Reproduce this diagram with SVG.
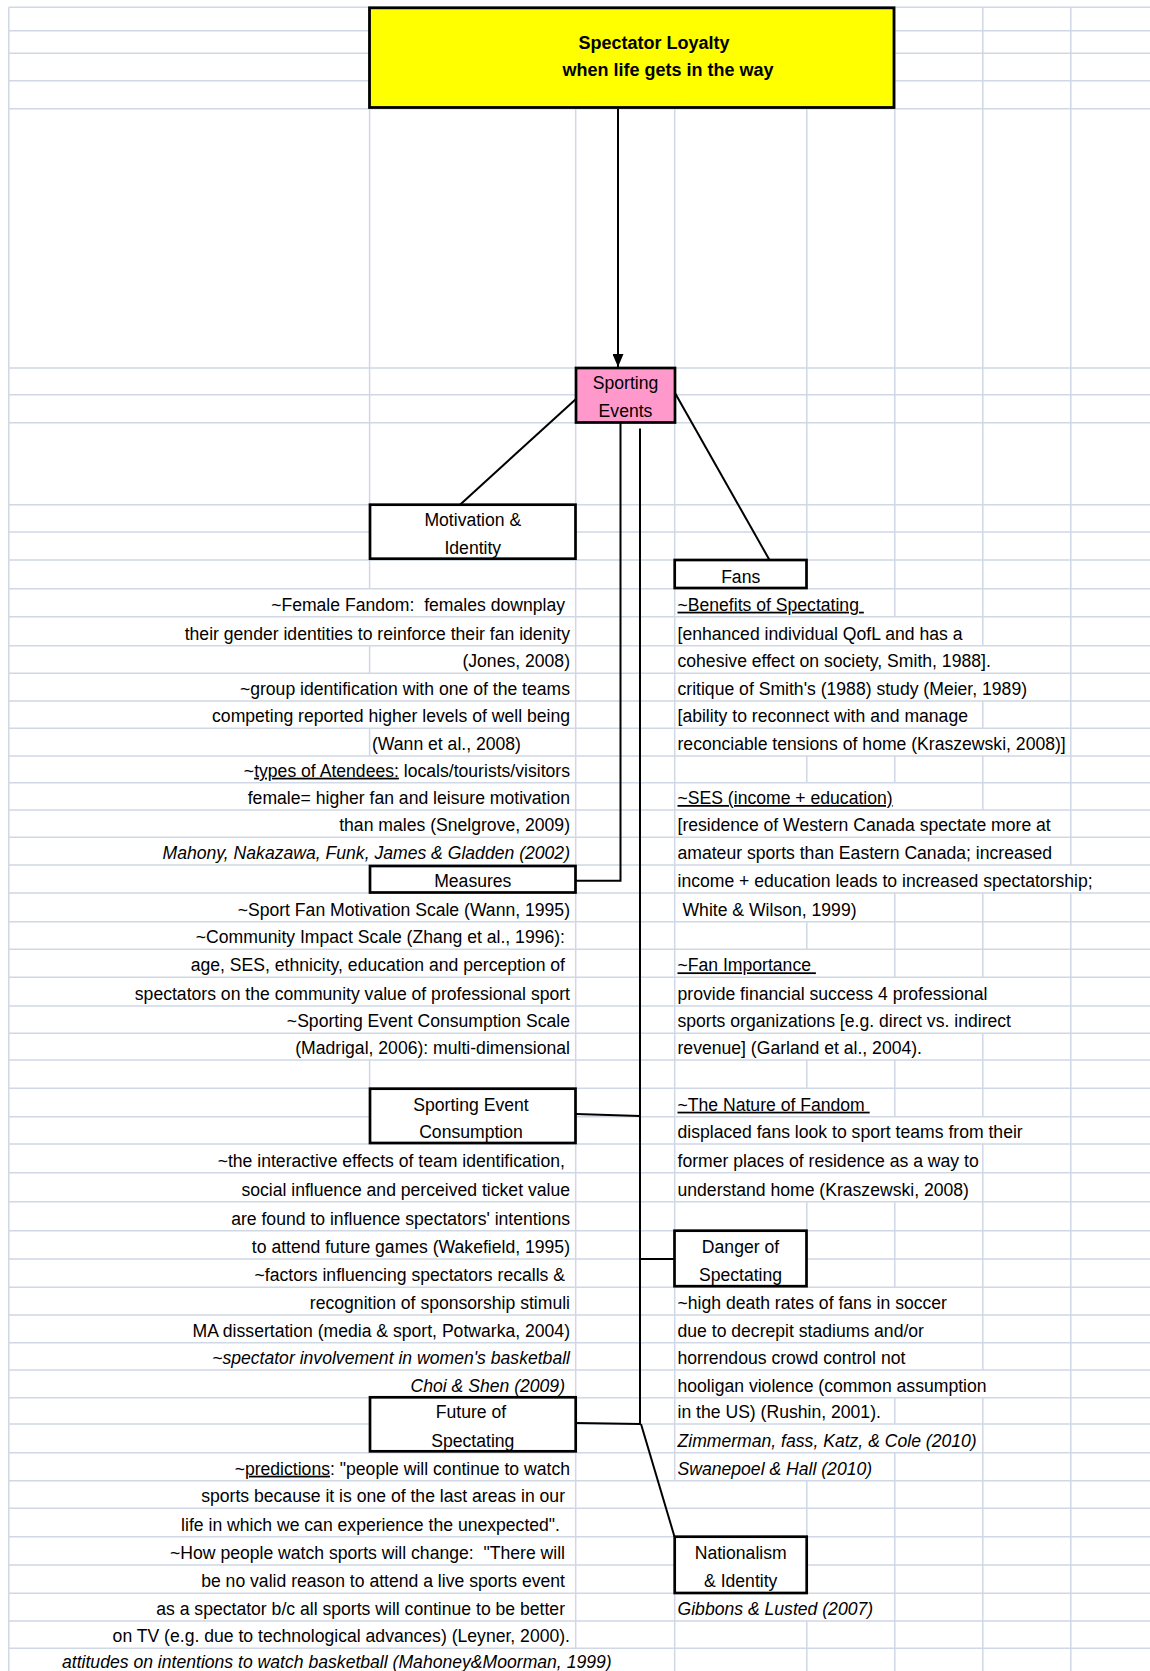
<svg xmlns="http://www.w3.org/2000/svg" width="1150" height="1671" viewBox="0 0 1150 1671">
<style>
text{font-family:"Liberation Sans",Arial,sans-serif;font-size:17.6px;fill:#000}
.l{text-anchor:end}
.c{text-anchor:middle}
.i{font-style:italic}
.u{text-decoration:underline}
.t{font-weight:bold;font-size:18px}
.grid{stroke:#D0D7E5;stroke-width:1.5;fill:none}
.box{fill:#fff;stroke:#000;stroke-width:2.7}
.conn{stroke:#000;stroke-width:2;fill:none}
</style>
<defs>
<marker id="arr" markerUnits="userSpaceOnUse" markerWidth="13" markerHeight="11" refX="13" refY="5.5" orient="auto" viewBox="0 0 13 11"><path d="M0,0 L13,5.5 L0,11 Z" fill="#000"/></marker>
</defs>
<rect width="1150" height="1671" fill="#fff"/>
<g id="grid" class="grid">
<path d="M8.8 7.3H1150M8.8 30.7H1150M8.8 53.3H1150M8.8 80.7H1150M8.8 108.7H1150M8.8 368H1150M8.8 394.7H1150M8.8 422.7H1150M8.8 504.7H1150M8.8 532H1150M8.8 560H1150M8.8 588.7H1150M8.8 616.7H1150M8.8 645.7H1150M8.8 673.3H1150M8.8 701H1150M8.8 728.3H1150M8.8 756H1150M8.8 782.7H1150M8.8 810H1150M8.8 837.3H1150M8.8 865H1150M8.8 893H1150M8.8 921.7H1150M8.8 949.3H1150M8.8 977.3H1150M8.8 1006H1150M8.8 1033.3H1150M8.8 1060H1150M8.8 1088.3H1150M8.8 1116.7H1150M8.8 1144H1150M8.8 1172.7H1150M8.8 1201.7H1150M8.8 1230.7H1150M8.8 1259H1150M8.8 1287.3H1150M8.8 1315H1150M8.8 1342.7H1150M8.8 1370H1150M8.8 1397.7H1150M8.8 1424H1150M8.8 1452.7H1150M8.8 1480.7H1150M8.8 1508.3H1150M8.8 1536.7H1150M8.8 1565H1150M8.8 1593.3H1150M8.8 1621H1150M8.8 1648.3H1150"/>
<path d="M8.8 7.3V1671M369.6 108.7V504.7M369.6 560V588.7M369.6 645.7V673.3M369.6 728.3V756M369.6 1060V1088.3M575.7 108.7V1648.3M674.7 108.7V1480.7M674.7 1536.7V1671M806.8 108.7V588.7M806.8 756V782.7M806.8 921.7V949.3M806.8 1060V1088.3M806.8 1201.7V1287.3M806.8 1480.7V1593.3M806.8 1621V1671M894.8 7.3V616.7M894.8 756V782.7M894.8 893V977.3M894.8 1060V1116.7M894.8 1201.7V1287.3M894.8 1397.7V1424M894.8 1452.7V1671M982.8 7.3V645.7M982.8 701V728.3M982.8 756V810M982.8 893V977.3M982.8 1033.3V1116.7M982.8 1144V1370M982.8 1397.7V1671M1070.8 7.3V865M1070.8 893V1671"/>
</g>
<g id="connectors" class="conn">
<path d="M618 108.7V367" marker-end="url(#arr)"/>
<path d="M576 399L460 504.7"/>
<path d="M675 393L769.5 560"/>
<path d="M620.5 422.7V880.7H576"/>
<path d="M640 428.5V1424"/>
<path d="M576 1114L640 1116"/>
<path d="M640 1259H674.7"/>
<path d="M576 1423L641 1424"/>
<path d="M641 1424L674.5 1536.7"/>
</g>
<g id="node-title">
<rect x="369.5" y="7.8" width="524.5" height="99.7" fill="#FFFF00" stroke="#000" stroke-width="2.8"/>
<text class="t" x="578.5" y="49">Spectator Loyalty</text>
<text class="t" x="562.5" y="76">when life gets in the way</text>
</g>
<g id="node-sporting-events">
<rect x="576" y="368" width="99" height="54.5" fill="#FF99CC" stroke="#000" stroke-width="2.7"/>
<text class="c" x="625.5" y="388.7">Sporting</text>
<text class="c" x="625.5" y="416.7">Events</text>
</g>
<g id="node-motivation">
<rect class="box" x="370" y="504.7" width="205.5" height="54"/>
<text class="c" x="472.8" y="526.3">Motivation &amp;</text>
<text class="c" x="472.8" y="554">Identity</text>
</g>
<g id="node-fans">
<rect class="box" x="674.7" y="560" width="131.8" height="28"/>
<text class="c" x="740.7" y="582.7">Fans</text>
</g>
<g id="node-measures">
<rect class="box" x="370" y="866" width="205.5" height="26.5"/>
<text class="c" x="472.8" y="887">Measures</text>
</g>
<g id="node-consumption">
<rect class="box" x="370" y="1088.7" width="205.5" height="54.3"/>
<text class="c" x="471" y="1110.7">Sporting Event</text>
<text class="c" x="471" y="1138">Consumption</text>
</g>
<g id="node-danger">
<rect class="box" x="674.5" y="1230.7" width="132" height="55.5"/>
<text class="c" x="740.5" y="1253">Danger of</text>
<text class="c" x="740.5" y="1281.3">Spectating</text>
</g>
<g id="node-future">
<rect class="box" x="370" y="1397.3" width="205.7" height="54"/>
<text class="c" x="471" y="1418">Future of</text>
<text class="c" x="472.8" y="1446.7">Spectating</text>
</g>
<g id="node-nationalism">
<rect class="box" x="674.7" y="1536.7" width="132" height="56.3"/>
<text class="c" x="740.7" y="1559">Nationalism</text>
<text class="c" x="740.7" y="1587.3">&amp; Identity</text>
</g>
<g id="notes-left">
<text class="l" x="565" y="610.7" xml:space="preserve">~Female Fandom:  females downplay</text>
<text class="l" x="570" y="639.7">their gender identities to reinforce their fan idenity</text>
<text class="l" x="570" y="667.3">(Jones, 2008)</text>
<text class="l" x="570" y="695">~group identification with one of the teams</text>
<text class="l" x="570" y="722.3">competing reported higher levels of well being</text>
<text x="372" y="750">(Wann et al., 2008)</text>
<text class="l" x="570" y="776.7" xml:space="preserve">~<tspan class="u">types of Atendees:</tspan> locals/tourists/visitors</text>
<text class="l" x="570" y="804">female= higher fan and leisure motivation</text>
<text class="l" x="570" y="831.3">than males (Snelgrove, 2009)</text>
<text class="l i" x="570" y="859">Mahony, Nakazawa, Funk, James &amp; Gladden (2002)</text>
<text class="l" x="570" y="915.7">~Sport Fan Motivation Scale (Wann, 1995)</text>
<text class="l" x="565" y="943.3">~Community Impact Scale (Zhang et al., 1996):</text>
<text class="l" x="565" y="971.3">age, SES, ethnicity, education and perception of</text>
<text class="l" x="570" y="1000">spectators on the community value of professional sport</text>
<text class="l" x="570" y="1027.3">~Sporting Event Consumption Scale</text>
<text class="l" x="570" y="1054">(Madrigal, 2006): multi-dimensional</text>
<text class="l" x="565" y="1166.7">~the interactive effects of team identification,</text>
<text class="l" x="570" y="1195.7">social influence and perceived ticket value</text>
<text class="l" x="570" y="1224.7">are found to influence spectators' intentions</text>
<text class="l" x="570" y="1253">to attend future games (Wakefield, 1995)</text>
<text class="l" x="565" y="1281.3">~factors influencing spectators recalls &amp;</text>
<text class="l" x="570" y="1309">recognition of sponsorship stimuli</text>
<text class="l" x="570" y="1336.7">MA dissertation (media &amp; sport, Potwarka, 2004)</text>
<text class="l i" x="570" y="1364">~spectator involvement in women's basketball</text>
<text class="l i" x="565" y="1391.7">Choi &amp; Shen (2009)</text>
<text class="l" x="570" y="1474.7" xml:space="preserve">~<tspan class="u">predictions</tspan>: "people will continue to watch</text>
<text class="l" x="565" y="1502.3">sports because it is one of the last areas in our</text>
<text class="l" x="560" y="1530.7">life in which we can experience the unexpected".</text>
<text class="l" x="565" y="1559" xml:space="preserve">~How people watch sports will change:  "There will</text>
<text class="l" x="565" y="1587.3">be no valid reason to attend a live sports event</text>
<text class="l" x="565" y="1615">as a spectator b/c all sports will continue to be better</text>
<text class="l" x="570" y="1642.3">on TV (e.g. due to technological advances) (Leyner, 2000).</text>
<text class="i" x="62" y="1668">attitudes on intentions to watch basketball (Mahoney&amp;Moorman, 1999)</text>
</g>
<g id="notes-right">
<text class="u" x="677.5" y="610.7" xml:space="preserve">~Benefits of Spectating </text>
<text x="677.5" y="639.7">[enhanced individual QofL and has a</text>
<text x="677.5" y="667.3">cohesive effect on society, Smith, 1988].</text>
<text x="677.5" y="695">critique of Smith's (1988) study (Meier, 1989)</text>
<text x="677.5" y="722.3">[ability to reconnect with and manage</text>
<text x="677.5" y="750">reconciable tensions of home (Kraszewski, 2008)]</text>
<text class="u" x="677.5" y="804">~SES (income + education)</text>
<text x="677.5" y="831.3">[residence of Western Canada spectate more at</text>
<text x="677.5" y="859">amateur sports than Eastern Canada; increased</text>
<text x="677.5" y="887">income + education leads to increased spectatorship;</text>
<text x="682.5" y="915.7">White &amp; Wilson, 1999)</text>
<text class="u" x="677.5" y="971.3" xml:space="preserve">~Fan Importance </text>
<text x="677.5" y="1000">provide financial success 4 professional</text>
<text x="677.5" y="1027.3">sports organizations [e.g. direct vs. indirect</text>
<text x="677.5" y="1054">revenue] (Garland et al., 2004).</text>
<text class="u" x="677.5" y="1110.7" xml:space="preserve">~The Nature of Fandom </text>
<text x="677.5" y="1138">displaced fans look to sport teams from their</text>
<text x="677.5" y="1166.7">former places of residence as a way to</text>
<text x="677.5" y="1195.7">understand home (Kraszewski, 2008)</text>
<text x="677.5" y="1309">~high death rates of fans in soccer</text>
<text x="677.5" y="1336.7">due to decrepit stadiums and/or</text>
<text x="677.5" y="1364">horrendous crowd control not</text>
<text x="677.5" y="1391.7">hooligan violence (common assumption</text>
<text x="677.5" y="1418">in the US) (Rushin, 2001).</text>
<text class="i" x="677.5" y="1446.7">Zimmerman, fass, Katz, &amp; Cole (2010)</text>
<text class="i" x="677.5" y="1474.7">Swanepoel &amp; Hall (2010)</text>
<text class="i" x="677.5" y="1615">Gibbons &amp; Lusted (2007)</text>
</g>
</svg>
